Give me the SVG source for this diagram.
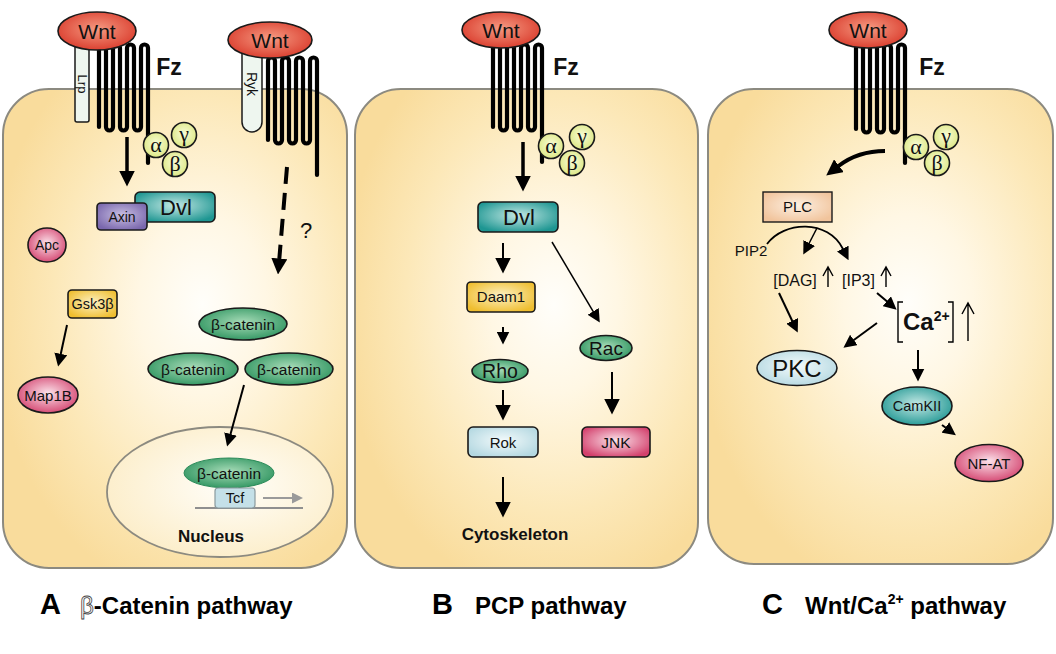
<svg xmlns="http://www.w3.org/2000/svg" width="1056" height="654" viewBox="0 0 1056 654">
<defs>
<radialGradient id="gCell" cx="58%" cy="45%" r="62%">
<stop offset="0" stop-color="#fffefa"/><stop offset="0.3" stop-color="#fff7e4"/><stop offset="0.7" stop-color="#fce8b8"/><stop offset="1" stop-color="#f9dc9c"/>
</radialGradient>
<radialGradient id="gNuc" cx="55%" cy="45%" r="60%">
<stop offset="0" stop-color="#fffefa"/><stop offset="1" stop-color="#fcedc8"/>
</radialGradient>
<radialGradient id="gRed" cx="50%" cy="45%" r="60%"><stop offset="0" stop-color="#f59a82"/><stop offset="1" stop-color="#d9392a"/></radialGradient>
<radialGradient id="gTeal" cx="50%" cy="45%" r="60%"><stop offset="0" stop-color="#c4e8e4"/><stop offset="1" stop-color="#1e9692"/></radialGradient>
<radialGradient id="gGreen" cx="50%" cy="45%" r="60%"><stop offset="0" stop-color="#a8dcb8"/><stop offset="1" stop-color="#2c935e"/></radialGradient>
<radialGradient id="gPink" cx="50%" cy="45%" r="60%"><stop offset="0" stop-color="#fbe2ea"/><stop offset="1" stop-color="#d3406c"/></radialGradient>
<radialGradient id="gYellow" cx="50%" cy="45%" r="60%"><stop offset="0" stop-color="#fdf1c4"/><stop offset="1" stop-color="#efbe30"/></radialGradient>
<radialGradient id="gBlue" cx="50%" cy="45%" r="60%"><stop offset="0" stop-color="#f3fafb"/><stop offset="1" stop-color="#b4d8e1"/></radialGradient>
<radialGradient id="gPurple" cx="50%" cy="45%" r="60%"><stop offset="0" stop-color="#c8bfe2"/><stop offset="1" stop-color="#7a67ad"/></radialGradient>
<radialGradient id="gPeach" cx="50%" cy="45%" r="60%"><stop offset="0" stop-color="#fdf0e2"/><stop offset="1" stop-color="#f1c49c"/></radialGradient>
<radialGradient id="gG" cx="50%" cy="45%" r="60%"><stop offset="0" stop-color="#f8fcd8"/><stop offset="1" stop-color="#dbe67e"/></radialGradient>
<marker id="big" viewBox="0 -8 16 16" markerWidth="16" markerHeight="16" refX="0.5" refY="0" orient="auto" markerUnits="userSpaceOnUse"><path d="M0,-8 L16,0 L0,8z" fill="#000"/></marker>
<marker id="med" viewBox="0 -6.5 13 13" markerWidth="13" markerHeight="13" refX="0.5" refY="0" orient="auto" markerUnits="userSpaceOnUse"><path d="M0,-6.5 L13,0 L0,6.5z" fill="#000"/></marker>
<marker id="gray" viewBox="0 -5.5 11 11" markerWidth="11" markerHeight="11" refX="0.5" refY="0" orient="auto" markerUnits="userSpaceOnUse"><path d="M0,-5.5 L11,0 L0,5.5z" fill="#9a9a9a"/></marker>
</defs>
<style>
.cell{fill:url(#gCell);stroke:#8c8a80;stroke-width:2}
.fz{fill:none;stroke:#000;stroke-width:4.2;stroke-linecap:round;stroke-linejoin:round}
.nd{stroke:#1a1a1a;stroke-width:1.6}
.t{font-family:"Liberation Sans",Arial,sans-serif;fill:#111;text-anchor:middle}
.b{font-weight:bold}
.gr{font-family:"Liberation Serif","Times New Roman",serif;font-size:22px;fill:#111;text-anchor:middle}
.ln{fill:none;stroke:#000}
.up{fill:none;stroke:#000;stroke-width:1.4}
</style>
<rect width="1056" height="654" fill="#fff"/>
<g id="cells">
<rect class="cell" x="3" y="89" width="344" height="479" rx="46"/>
<rect class="cell" x="355" y="89" width="343" height="479" rx="46"/>
<rect class="cell" x="708" y="89" width="345" height="475" rx="46"/>
</g>
<g id="nucleus">
<ellipse cx="220" cy="492" rx="113" ry="65" fill="url(#gNuc)" stroke="#8c8a80" stroke-width="1.8"/>
<line x1="195" y1="508" x2="303" y2="508" stroke="#8f8f8f" stroke-width="2"/>
<text class="t b" x="211" y="542" font-size="17">Nucleus</text>
</g>
<g id="lrp">
<rect x="75" y="44" width="14" height="78" rx="2" fill="#eef6ef" stroke="#1a1a1a" stroke-width="1.5"/>
<text class="t" font-size="13" transform="translate(82,84) rotate(90)" y="4.5">Lrp</text>
</g>
<g id="ryk">
<path d="M242,48 V122 A10,10 0 0 0 262,122 V48 Z" fill="#eef6ef" stroke="#1a1a1a" stroke-width="1.5"/>
<text class="t" font-size="14" transform="translate(252,84) rotate(90)" y="5">Ryk</text>
</g>
<g id="fzA">
<path class="fz" d="M99,127 V48 A3.5,3.5 0 0 1 106,48 V127 A3.5,3.5 0 0 0 113,127 V48 A3.5,3.5 0 0 1 120,48 V127 A3.5,3.5 0 0 0 127,127 V48 A3.5,3.5 0 0 1 134,48 V127 A3.5,3.5 0 0 0 141,127 V48 A3.5,3.5 0 0 1 148,48 V163"/>
<text class="t b" x="169" y="75" font-size="23">Fz</text>
</g>
<g id="fzRyk">
<path class="fz" d="M268,140 V61 A3.5,3.5 0 0 1 275,61 V140 A3.5,3.5 0 0 0 282,140 V61 A3.5,3.5 0 0 1 289,61 V140 A3.5,3.5 0 0 0 296,140 V61 A3.5,3.5 0 0 1 303,61 V140 A3.5,3.5 0 0 0 310,140 V61 A3.5,3.5 0 0 1 317,61 V175"/>
</g>
<g id="fzB">
<path class="fz" d="M493,127 V48 A3.5,3.5 0 0 1 500,48 V127 A3.5,3.5 0 0 0 507,127 V48 A3.5,3.5 0 0 1 514,48 V127 A3.5,3.5 0 0 0 521,127 V48 A3.5,3.5 0 0 1 528,48 V127 A3.5,3.5 0 0 0 535,127 V48 A3.5,3.5 0 0 1 542,48 V162"/>
<text class="t b" x="566" y="75" font-size="23">Fz</text>
</g>
<g id="fzC">
<path class="fz" d="M856,129 V48 A3.5,3.5 0 0 1 863,48 V129 A3.5,3.5 0 0 0 870,129 V48 A3.5,3.5 0 0 1 877,48 V129 A3.5,3.5 0 0 0 884,129 V48 A3.5,3.5 0 0 1 891,48 V129 A3.5,3.5 0 0 0 898,129 V48 A3.5,3.5 0 0 1 905,48 V163"/>
<text class="t b" x="932" y="75" font-size="23">Fz</text>
</g>
<g id="wntA1"><ellipse class="nd" cx="97" cy="31" rx="39" ry="19" fill="url(#gRed)"/><text class="t" x="97" y="39" font-size="21">Wnt</text></g>
<g id="wntA2"><ellipse class="nd" cx="270" cy="40" rx="42" ry="18" fill="url(#gRed)"/><text class="t" x="270" y="48" font-size="21">Wnt</text></g>
<g id="wntB"><ellipse class="nd" cx="501" cy="30" rx="39" ry="18" fill="url(#gRed)"/><text class="t" x="501" y="38" font-size="21">Wnt</text></g>
<g id="wntC"><ellipse class="nd" cx="868" cy="30" rx="39" ry="18" fill="url(#gRed)"/><text class="t" x="868" y="38" font-size="21">Wnt</text></g>
<g id="gprotA">
<circle class="nd" cx="156" cy="145" r="12.5" fill="url(#gG)"/><circle class="nd" cx="184" cy="135" r="12.5" fill="url(#gG)"/><circle class="nd" cx="175" cy="164" r="12.5" fill="url(#gG)"/>
<text class="gr" x="156" y="152">α</text><text class="gr" x="184" y="141">γ</text><text class="gr" x="175" y="171">β</text>
</g>
<g id="gprotB">
<circle class="nd" cx="551" cy="146" r="12.5" fill="url(#gG)"/><circle class="nd" cx="582" cy="137" r="12.5" fill="url(#gG)"/><circle class="nd" cx="572" cy="163" r="12.5" fill="url(#gG)"/>
<text class="gr" x="551" y="153">α</text><text class="gr" x="582" y="143">γ</text><text class="gr" x="572" y="170">β</text>
</g>
<g id="gprotC">
<circle class="nd" cx="916" cy="147" r="12.5" fill="url(#gG)"/><circle class="nd" cx="946" cy="137" r="12.5" fill="url(#gG)"/><circle class="nd" cx="937" cy="163" r="12.5" fill="url(#gG)"/>
<text class="gr" x="916" y="154">α</text><text class="gr" x="946" y="143">γ</text><text class="gr" x="937" y="170">β</text>
</g>
<g id="dvlA"><rect class="nd" x="135" y="192" width="80" height="30" rx="5" fill="url(#gTeal)"/><text class="t" x="176" y="215" font-size="22">Dvl</text></g>
<g id="axin"><rect class="nd" x="97" y="203" width="50" height="27" rx="4" fill="url(#gPurple)"/><text class="t" x="122" y="222" font-size="14">Axin</text></g>
<g id="apc"><ellipse class="nd" cx="47" cy="245" rx="19" ry="17" fill="url(#gPink)"/><text class="t" x="47" y="250" font-size="14">Apc</text></g>
<g id="gsk3b"><rect class="nd" x="68" y="290" width="49" height="28" rx="4" fill="url(#gYellow)"/><text class="t" x="92.5" y="309" font-size="14.5">Gsk3β</text></g>
<g id="map1b"><ellipse class="nd" cx="48" cy="395" rx="30" ry="18" fill="url(#gPink)"/><text class="t" x="48" y="400.5" font-size="15">Map1B</text></g>
<g id="bcat1"><ellipse class="nd" cx="243" cy="324" rx="44" ry="16" fill="url(#gGreen)"/><text class="t" x="243" y="329.5" font-size="15.5">β-catenin</text></g>
<g id="bcat2"><ellipse class="nd" cx="193" cy="369" rx="45" ry="16" fill="url(#gGreen)"/><text class="t" x="193" y="374.5" font-size="15.5">β-catenin</text></g>
<g id="bcat3"><ellipse class="nd" cx="289" cy="369" rx="44" ry="16" fill="url(#gGreen)"/><text class="t" x="289" y="374.5" font-size="15.5">β-catenin</text></g>
<g id="bcatN"><ellipse cx="229" cy="473" rx="45" ry="15" fill="url(#gGreen)" stroke="#2a8a58" stroke-width="1"/><text class="t" x="229" y="478.5" font-size="15.5">β-catenin</text></g>
<g id="tcf"><rect x="215" y="488" width="40" height="20" rx="3" fill="#c4e0e8" stroke="#8a9a9e" stroke-width="1.2"/><text class="t" x="235" y="503" font-size="14.5">Tcf</text></g>
<g id="dvlB"><rect class="nd" x="478" y="202" width="80" height="30" rx="5" fill="url(#gTeal)"/><text class="t" x="519" y="225" font-size="22">Dvl</text></g>
<g id="daam1"><rect class="nd" x="467" y="282" width="68" height="30" rx="4" fill="url(#gYellow)"/><text class="t" x="501" y="302" font-size="15">Daam1</text></g>
<g id="rho"><ellipse class="nd" cx="500" cy="371" rx="28" ry="11.5" fill="url(#gGreen)"/><text class="t" x="500" y="378" font-size="19.5">Rho</text></g>
<g id="rok"><rect class="nd" x="468" y="427" width="70" height="30" rx="5" fill="url(#gBlue)"/><text class="t" x="503" y="447.5" font-size="15">Rok</text></g>
<g id="rac"><ellipse class="nd" cx="606" cy="348" rx="26" ry="12.5" fill="url(#gGreen)"/><text class="t" x="606" y="355" font-size="19">Rac</text></g>
<g id="jnk"><rect class="nd" x="582" y="427" width="68" height="30" rx="5" fill="url(#gPink)"/><text class="t" x="616" y="447.5" font-size="15.5">JNK</text></g>
<g id="cyto"><text class="t b" x="515" y="540" font-size="17">Cytoskeleton</text></g>
<g id="plc"><rect x="763" y="192" width="69" height="30" fill="url(#gPeach)" stroke="#1a1a1a" stroke-width="1.4"/><text class="t" x="797.5" y="212" font-size="15">PLC</text></g>
<g id="pip2"><text class="t" x="751" y="256" font-size="15">PIP2</text></g>
<g id="dag"><text class="t" x="795" y="286" font-size="16">[DAG]</text><path class="up" d="M828,287 V267 M823,276 L828,267 L833,276"/></g>
<g id="ip3"><text class="t" x="858.5" y="286" font-size="16">[IP3]</text><path class="up" d="M886,287 V267 M881,276 L886,267 L891,276"/></g>
<g id="ca">
<path class="up" d="M903,302 H898 V342 H903 M948,302 H953 V342 H948"/>
<text x="903" y="330" font-family="Liberation Sans,Arial,sans-serif" font-weight="bold" font-size="24" fill="#111">Ca<tspan font-size="14" dy="-9">2+</tspan></text>
<path class="up" d="M968,341 V303 M962,314 L968,303 L974,314"/>
</g>
<g id="pkc"><ellipse class="nd" cx="797" cy="368" rx="40" ry="17.5" fill="url(#gBlue)"/><text class="t" x="797" y="376.5" font-size="24">PKC</text></g>
<g id="camkii"><ellipse class="nd" cx="917" cy="406" rx="35" ry="19" fill="url(#gTeal)"/><text class="t" x="917" y="411" font-size="14.5">CamKII</text></g>
<g id="nfat"><ellipse class="nd" cx="989" cy="463" rx="34" ry="18.5" fill="url(#gPink)"/><text class="t" x="989" y="468.5" font-size="15">NF-AT</text></g>
<g id="connectors">
<line class="ln" x1="127" y1="137" x2="127" y2="171" stroke-width="3.5" marker-end="url(#big)"/>
<line class="ln" x1="287" y1="167" x2="279.3" y2="259" stroke-width="4" stroke-dasharray="17 9" marker-end="url(#big)"/>
<line class="ln" x1="67" y1="325" x2="60.7" y2="354.3" stroke-width="2" marker-end="url(#med)"/>
<line class="ln" x1="244" y1="385" x2="230.4" y2="434.5" stroke-width="2" marker-end="url(#med)"/>
<line x1="263" y1="498" x2="292.5" y2="498" stroke="#9a9a9a" stroke-width="2" marker-end="url(#gray)"/>
<line class="ln" x1="523" y1="142" x2="523" y2="176" stroke-width="3.5" marker-end="url(#big)"/>
<line class="ln" x1="503" y1="243" x2="503" y2="258" stroke-width="2" marker-end="url(#big)"/>
<line class="ln" x1="552" y1="242" x2="593.4" y2="311.8" stroke-width="1.5" marker-end="url(#med)"/>
<line class="ln" x1="503" y1="327" x2="503" y2="332" stroke-width="2" marker-end="url(#med)"/>
<line class="ln" x1="503" y1="390" x2="503" y2="405" stroke-width="2" marker-end="url(#big)"/>
<line class="ln" x1="503" y1="477" x2="503" y2="502" stroke-width="2" marker-end="url(#big)"/>
<line class="ln" x1="612" y1="372" x2="612" y2="399" stroke-width="2" marker-end="url(#big)"/>
<path class="ln" d="M885,151 Q858,151 838.5,166" stroke-width="4" marker-end="url(#big)"/>
<line class="ln" x1="817" y1="228" x2="809" y2="243.5" stroke-width="1.5" marker-end="url(#med)"/>
<path class="ln" d="M767,244 C784,221 828,219 843,249" stroke-width="1.8" marker-end="url(#med)"/>
<line class="ln" x1="779" y1="293" x2="792.4" y2="321.3" stroke-width="2" marker-end="url(#med)"/>
<line class="ln" x1="877" y1="293" x2="887.1" y2="301.6" stroke-width="2" marker-end="url(#med)"/>
<line class="ln" x1="877" y1="323" x2="853.5" y2="340.3" stroke-width="2" marker-end="url(#med)"/>
<line class="ln" x1="918" y1="350" x2="918" y2="369" stroke-width="2" marker-end="url(#med)"/>
<line class="ln" x1="942" y1="425" x2="945.8" y2="427.8" stroke-width="2" marker-end="url(#med)"/>
</g>
<g id="qmark"><text class="t" x="306" y="238" font-size="22">?</text></g>
<g id="labels" font-family="Liberation Sans,Arial,sans-serif" font-weight="bold" fill="#000">
<text x="40" y="614" font-size="29">A</text>
<text x="80" y="614" font-size="24"><tspan fill="#fff" stroke="#444" stroke-width="0.8" font-weight="normal">β</tspan>-Catenin pathway</text>
<text x="432" y="614" font-size="29">B</text>
<text x="475" y="614" font-size="24">PCP pathway</text>
<text x="762" y="614" font-size="29">C</text>
<text x="805" y="614" font-size="24">Wnt/Ca<tspan font-size="14" dy="-10">2+</tspan><tspan dy="10"> pathway</tspan></text>
</g>
</svg>
